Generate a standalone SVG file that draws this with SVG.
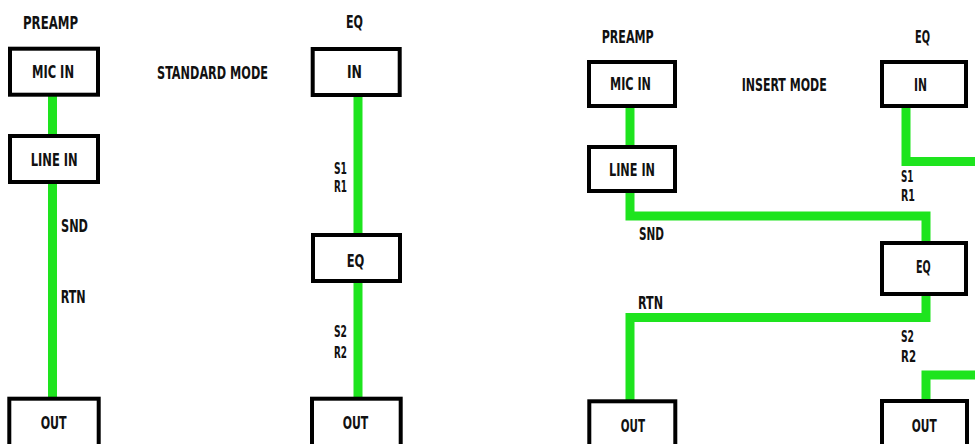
<svg xmlns="http://www.w3.org/2000/svg" width="975" height="444" viewBox="0 0 975 444">
<style>
.box{fill:#fff;stroke:#000;stroke-width:4}
.wire{fill:none;stroke:#1ee41e;stroke-width:9;stroke-linejoin:miter;stroke-linecap:butt}
text{font-family:"Liberation Sans Narrow","DejaVu Sans Condensed","Liberation Sans",sans-serif;font-weight:bold;font-size:17.5px;fill:#111}
.r{font-size:18px}
.sr{font-size:15.5px}
</style>
<rect width="975" height="444" fill="#fff"/>
<g id="connectors">
<line class="wire" x1="52.5" y1="95" x2="52.5" y2="136"/>
<line class="wire" x1="52.5" y1="182" x2="52.5" y2="399"/>
<line class="wire" x1="358" y1="95" x2="358" y2="235"/>
<line class="wire" x1="358" y1="281" x2="358" y2="399"/>
<line class="wire" x1="630" y1="106" x2="630" y2="147"/>
<path class="wire" d="M630 191 V216 H926 V243"/>
<path class="wire" d="M926 294 V317.5 H630 V401"/>
<path class="wire" d="M906 106 V161.5 H985"/>
<path class="wire" d="M985 375 H926 V401"/>
<text x="61" y="232" textLength="27" lengthAdjust="spacingAndGlyphs">SND</text>
<text x="60.7" y="303" textLength="25" lengthAdjust="spacingAndGlyphs">RTN</text>
<text class="sr" x="334" y="174" textLength="13" lengthAdjust="spacingAndGlyphs">S1</text>
<text class="sr" x="334" y="192" textLength="13" lengthAdjust="spacingAndGlyphs">R1</text>
<text class="sr" x="334" y="337" textLength="13" lengthAdjust="spacingAndGlyphs">S2</text>
<text class="sr" x="334" y="358" textLength="13" lengthAdjust="spacingAndGlyphs">R2</text>
<text class="r" x="639" y="240" textLength="25" lengthAdjust="spacingAndGlyphs">SND</text>
<text class="r" x="638" y="309" textLength="25" lengthAdjust="spacingAndGlyphs">RTN</text>
<text class="sr" x="901" y="182" textLength="12.5" lengthAdjust="spacingAndGlyphs">S1</text>
<text class="sr" x="901" y="200.5" textLength="14" lengthAdjust="spacingAndGlyphs">R1</text>
<text class="sr" x="901" y="342" textLength="13" lengthAdjust="spacingAndGlyphs">S2</text>
<text class="sr" x="901" y="361.5" textLength="15" lengthAdjust="spacingAndGlyphs">R2</text>
</g>
<g id="titles">
<text x="23" y="29" textLength="55" lengthAdjust="spacingAndGlyphs">PREAMP</text>
<text x="346" y="28" textLength="17" lengthAdjust="spacingAndGlyphs">EQ</text>
<text x="157" y="79" textLength="111" lengthAdjust="spacingAndGlyphs">STANDARD MODE</text>
<text class="r" x="601.7" y="43" textLength="52" lengthAdjust="spacingAndGlyphs">PREAMP</text>
<text class="r" x="915" y="43" textLength="15" lengthAdjust="spacingAndGlyphs">EQ</text>
<text class="r" x="741.7" y="91" textLength="85" lengthAdjust="spacingAndGlyphs">INSERT MODE</text>
</g>
<g id="std-mic-in">
<rect class="box" x="10" y="48.7" width="88" height="46"/>
<text x="32" y="78" textLength="42" lengthAdjust="spacingAndGlyphs">MIC IN</text>
</g>
<g id="std-line-in">
<rect class="box" x="10" y="136" width="88" height="46"/>
<text x="30.7" y="165.7" textLength="47" lengthAdjust="spacingAndGlyphs">LINE IN</text>
</g>
<g id="std-out">
<rect class="box" x="9.3" y="398.7" width="89.4" height="50"/>
<text x="40.7" y="429.3" textLength="26" lengthAdjust="spacingAndGlyphs">OUT</text>
</g>
<g id="std-eq-in">
<rect class="box" x="312.7" y="49" width="87" height="46"/>
<text x="347" y="78" textLength="15" lengthAdjust="spacingAndGlyphs">IN</text>
</g>
<g id="std-eq">
<rect class="box" x="313" y="235" width="87" height="46"/>
<text x="346.7" y="267" textLength="17.6" lengthAdjust="spacingAndGlyphs">EQ</text>
</g>
<g id="std-eq-out">
<rect class="box" x="312" y="398.7" width="88.7" height="50"/>
<text x="342.7" y="429.3" textLength="25.6" lengthAdjust="spacingAndGlyphs">OUT</text>
</g>
<g id="ins-mic-in">
<rect class="box" x="589" y="62" width="86" height="44"/>
<text class="r" x="610" y="90" textLength="41" lengthAdjust="spacingAndGlyphs">MIC IN</text>
</g>
<g id="ins-line-in">
<rect class="box" x="589" y="147" width="86" height="44"/>
<text class="r" x="609" y="175.7" textLength="46" lengthAdjust="spacingAndGlyphs">LINE IN</text>
</g>
<g id="ins-out">
<rect class="box" x="589.3" y="401.3" width="86" height="50"/>
<text class="r" x="620.7" y="431.7" textLength="24.3" lengthAdjust="spacingAndGlyphs">OUT</text>
</g>
<g id="ins-eq-in">
<rect class="box" x="882" y="62" width="84" height="44"/>
<text class="r" x="914" y="91" textLength="13" lengthAdjust="spacingAndGlyphs">IN</text>
</g>
<g id="ins-eq">
<rect class="box" x="882" y="243" width="84" height="51"/>
<text class="r" x="916" y="273" textLength="14.7" lengthAdjust="spacingAndGlyphs">EQ</text>
</g>
<g id="ins-eq-out">
<rect class="box" x="882" y="401" width="85" height="50"/>
<text class="r" x="911.7" y="431.7" textLength="25" lengthAdjust="spacingAndGlyphs">OUT</text>
</g>
</svg>
